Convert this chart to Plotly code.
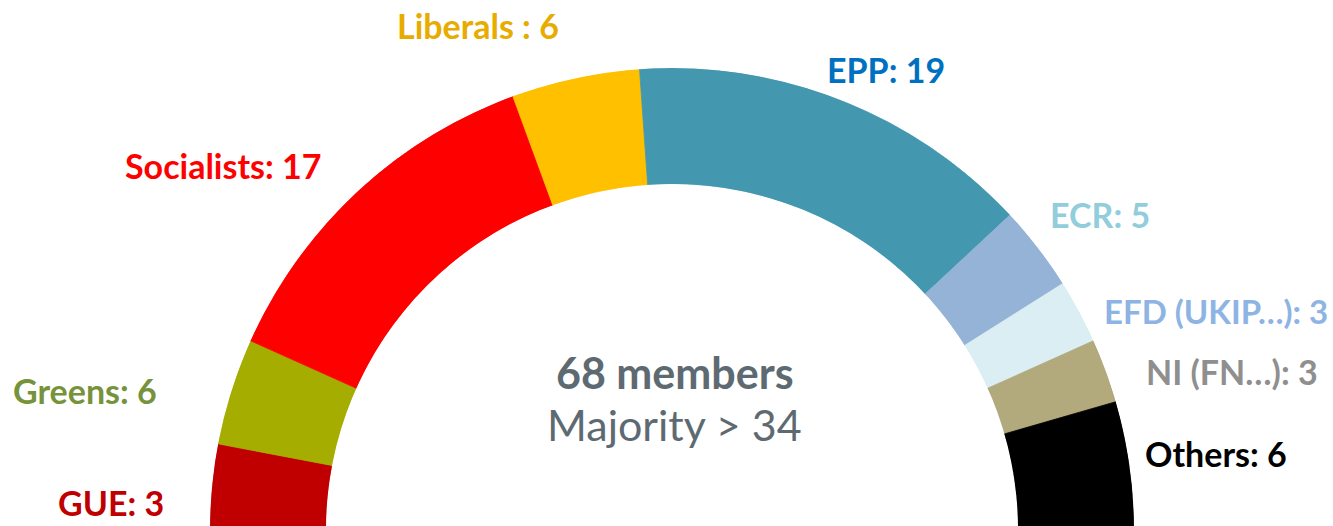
import plotly.graph_objects as go

# ---- data ----
groups = ["GUE", "Greens", "Socialists", "Liberals", "EPP", "ECR",
          "EFD (UKIP…)", "NI (FN…)", "Others"]
# seat counts as printed in the labels
label_counts = [3, 6, 17, 6, 19, 5, 3, 3, 6]
# slice sizes as drawn in the arc
slice_values = [4, 5, 17, 6, 19, 4, 3, 3, 6]
label_seps = [": ", ": ", ": ", " : ", ": ", ": ", ": ", ": ", ": "]
fill_colors = ["#C00000", "#A5AE00", "#FF0000", "#FFC000", "#4398B0",
               "#95B3D7", "#DAEEF3", "#B2A97C", "#000000"]
label_colors = ["#C00000", "#76933C", "#FF0000", "#E8AB00", "#0070C0",
                "#92CDDC", "#8DB4E2", "#8F8F8F", "#000000"]
total_members = 68
majority = 34

# ---- layout constants (positions / styling) ----
W, H = 1333, 530            # the arc's centre sits just below the window edge
# label centres in window pixels (x centre, cap-height centre)
label_pos = [(111, 504), (85, 392), (223, 167.5), (478, 27.5), (885.5, 71.5),
             (1100, 215.5), (1216, 312.5), (1232, 372.5), (1215.5, 454.5)]
label_sizes = [34, 34, 34, 34, 34, 34, 33, 34, 34]
FONT = "Lato"
TXT_DY = 1.5


def px(x):
    return x / W


def py(y):
    return 1 - (y - TXT_DY) / H


total = sum(slice_values)
widths = [v / total * 180 for v in slice_values]
centers = []
acc = 0
for w in widths:
    centers.append(acc + w / 2)
    acc += w

fig = go.Figure()
fig.add_trace(go.Barpolar(
    r=[1] * len(slice_values),
    theta=centers,
    width=widths,
    marker=dict(color=fill_colors, line=dict(color=fill_colors, width=0.8)),
    hoverinfo="skip",
    showlegend=False,
))

cx, R, hole_r = 672, 462, 346
fig.update_layout(
    width=W, height=H,
    margin=dict(l=0, r=0, t=0, b=0),
    paper_bgcolor="white",
    plot_bgcolor="white",
    polar=dict(
        domain=dict(x=[(cx - R) / W, (cx + R) / W], y=[0, R / H]),
        sector=[0, 180],
        hole=hole_r / R,
        bgcolor="white",
        bargap=0,
        radialaxis=dict(visible=False, range=[0, 1]),
        angularaxis=dict(visible=False, rotation=180, direction="clockwise",
                         showgrid=False),
    ),
)

annos = []
for g, c, sep, col, sz, (x, y) in zip(groups, label_counts, label_seps,
                                      label_colors, label_sizes, label_pos):
    annos.append(dict(
        text=f"<b>{g}{sep}{c}</b>", x=px(x), y=py(y),
        xref="paper", yref="paper", xanchor="center", yanchor="middle",
        showarrow=False, borderpad=0,
        font=dict(family=FONT, size=sz, color=col),
    ))
annos.append(dict(
    text=f"<b>{total_members} members</b>", x=px(675), y=py(374),
    xref="paper", yref="paper", xanchor="center", yanchor="middle",
    showarrow=False, borderpad=0,
    font=dict(family=FONT, size=43, color="#5E6A72"),
))
annos.append(dict(
    text=f"Majority &gt; {majority}", x=px(674.5), y=py(426),
    xref="paper", yref="paper", xanchor="center", yanchor="middle",
    showarrow=False, borderpad=0,
    font=dict(family=FONT, size=43, color="#5E6A72"),
))
fig.update_layout(annotations=annos)

fig.write_html(
    "out.html",
    config={"displayModeBar": False, "staticPlot": True},
    post_script="document.body.style.margin='0';"
                "document.body.style.overflow='hidden';",
)
